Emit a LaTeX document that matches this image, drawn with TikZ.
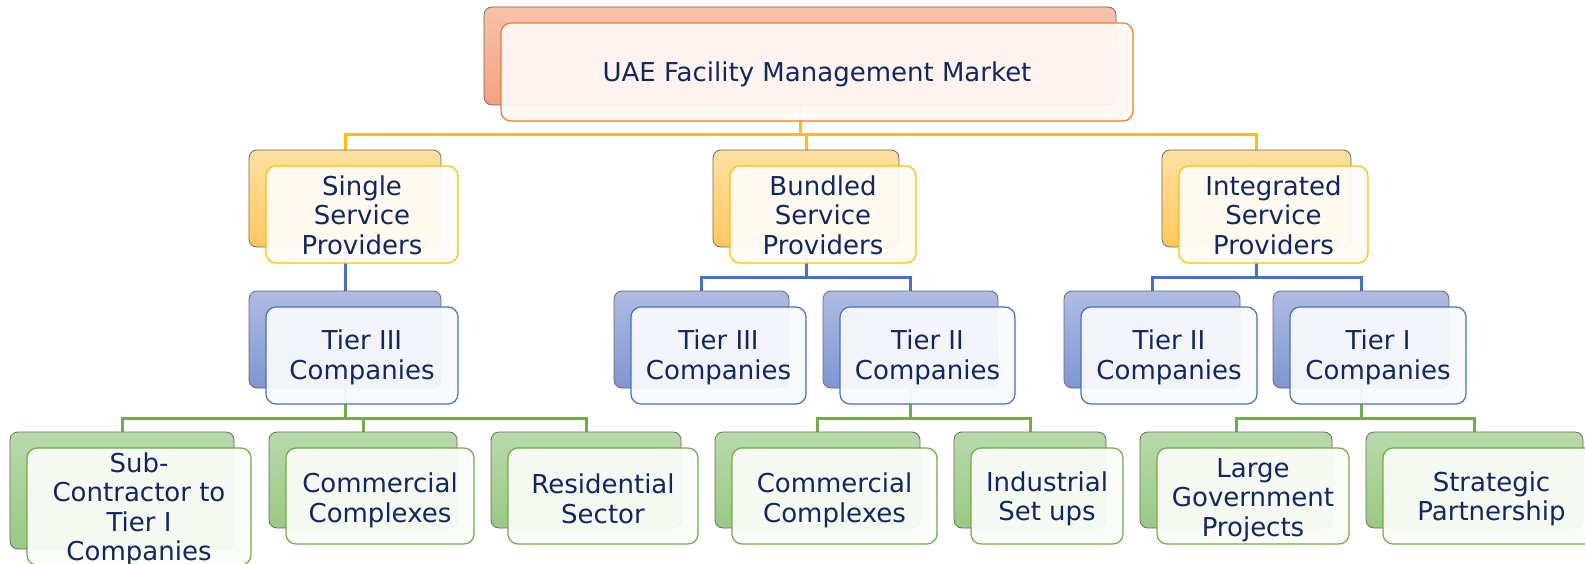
\documentclass[tikz,border=0pt]{standalone}
\usepackage{fontspec}
\setmainfont{DejaVu Sans}
\pgfdeclarelayer{bg}
\pgfsetlayers{bg,main}
\definecolor{navy}{HTML}{10275F}
\definecolor{edgegray}{HTML}{6A6A6A}
\definecolor{salTop}{HTML}{F8C2AA}
\definecolor{salBot}{HTML}{F3A17F}
\definecolor{orgLine}{HTML}{ED7D31}
\definecolor{orgFill}{HTML}{FFF8F5}
\definecolor{golTop}{HTML}{FFE0A3}
\definecolor{golBot}{HTML}{FFC75C}
\definecolor{golLine}{HTML}{FFC000}
\definecolor{golFill}{HTML}{FFFCF7}
\definecolor{bluTop}{HTML}{AEBCE3}
\definecolor{bluBot}{HTML}{7F96D3}
\definecolor{bluLine}{HTML}{4472C4}
\definecolor{bluFill}{HTML}{F9FAFD}
\definecolor{grnTop}{HTML}{B9D9AB}
\definecolor{grnBot}{HTML}{98C982}
\definecolor{grnLine}{HTML}{70AD47}
\definecolor{grnFill}{HTML}{FAFCF8}
\tikzset{
  backbox/.style={draw=edgegray, line width=0.8pt, rounded corners=8pt, inner sep=0pt, outer sep=0pt},
  frontbox/.style={line width=1.2pt, rounded corners=10pt, inner sep=0pt, outer sep=0pt, fill opacity=0.94},
  txt/.style={inner sep=0pt, align=center, text=navy, font=\fontsize{26}{29.5}\selectfont},
  bA/.style={top color=salTop, bottom color=salBot},
  fA/.style={draw=orgLine, fill=orgFill},
  bB/.style={top color=golTop, bottom color=golBot},
  fB/.style={draw=golLine, fill=golFill},
  bC/.style={top color=bluTop, bottom color=bluBot},
  fC/.style={draw=bluLine, fill=bluFill},
  bD/.style={top color=grnTop, bottom color=grnBot},
  fD/.style={draw=grnLine, fill=grnFill},
  conn/.style={line width=3pt},
  ycon/.style={conn, draw=golLine},
  bcon/.style={conn, draw=bluLine},
  gcon/.style={conn, draw=grnLine}
}
% #1 name, #2 x0, #3 y0, #4 x1, #5 y1, #6 back style, #7 front style, #8 text, #9 text shift down
\newcommand\orgbox[9]{%
  \node[backbox,#6,minimum width={(#4-#2)*1pt},minimum height={(#5-#3)*1pt}] (#1b) at ({(#2+#4)/2},{(#3+#5)/2}) {};
  \node[frontbox,#7,minimum width={(#4-#2)*1pt},minimum height={(#5-#3)*1pt}] (#1) at ({(#2+#4)/2+17},{(#3+#5)/2+16}) {};
  \node[txt] (#1t) at ({(#2+#4)/2+17},{(#3+#5)/2+16+#9}) {#8};
}
\begin{document}
\begin{tikzpicture}[x=1pt,y=-1pt]
\clip (0,0) rectangle (1585,564);
% level 0
\orgbox{top}{484}{7}{1116}{105}{bA}{fA}{UAE Facility Management Market}{2}
% level 1
\orgbox{ssp}{249}{150}{441}{247}{bB}{fB}{Single\\Service\\Providers}{0.5}
\orgbox{bsp}{713}{150}{899}{247}{bB}{fB}{Bundled\\Service\\Providers}{0.5}
\orgbox{isp}{1162}{150}{1351}{247}{bB}{fB}{Integrated\\Service\\Providers}{0.5}
% level 2
\orgbox{st3}{249}{291}{441}{388}{bC}{fC}{Tier III\\Companies}{2}
\orgbox{bt3}{614}{291}{789}{388}{bC}{fC}{Tier III\\Companies}{2}
\orgbox{bt2}{823}{291}{998}{388}{bC}{fC}{Tier II\\Companies}{2}
\orgbox{it2}{1064}{291}{1240}{388}{bC}{fC}{Tier II\\Companies}{2}
\orgbox{it1}{1273}{291}{1449}{388}{bC}{fC}{Tier I\\Companies}{2}
% level 3
\orgbox{sub}{10}{432}{234}{549}{bD}{fD}{Sub-\\Contractor to\\Tier I\\Companies}{3}
\orgbox{comA}{269}{432}{457}{528}{bD}{fD}{Commercial\\Complexes}{4.5}
\orgbox{res}{491}{432}{681}{528}{bD}{fD}{Residential\\Sector}{3}
\orgbox{comB}{715}{432}{920}{528}{bD}{fD}{Commercial\\Complexes}{4.5}
\orgbox{ind}{954}{432}{1106}{528}{bD}{fD}{Industrial\\Set ups}{3}
\orgbox{lgp}{1140}{432}{1332}{528}{bD}{fD}{Large\\Government\\Projects}{4}
\orgbox{sp}{1366}{432}{1583}{528}{bD}{fD}{Strategic\\Partnership}{3}
% connectors
\coordinate (ybus) at (0,135);
\coordinate (bbus) at (0,277);
\coordinate (gbus) at (0,418);
\begin{pgfonlayer}{bg}
\fill[white] (0,0) rectangle (1585,564);
\draw[ycon] (topb.south) -- (topb.south |- ybus) -| (sspb.north);
\draw[ycon] (topb.south) -- (topb.south |- ybus) -| (bspb.north);
\draw[ycon] (topb.south) -- (topb.south |- ybus) -| (ispb.north);
\draw[bcon] (sspb.south) -- (sspb.south |- bbus) -| (st3b.north);
\draw[bcon] (bspb.south) -- (bspb.south |- bbus) -| (bt3b.north);
\draw[bcon] (bspb.south) -- (bspb.south |- bbus) -| (bt2b.north);
\draw[bcon] (ispb.south) -- (ispb.south |- bbus) -| (it2b.north);
\draw[bcon] (ispb.south) -- (ispb.south |- bbus) -| (it1b.north);
\draw[gcon] (st3b.south) -- (st3b.south |- gbus) -| (subb.north);
\draw[gcon] (st3b.south) -- (st3b.south |- gbus) -| (comAb.north);
\draw[gcon] (st3b.south) -- (st3b.south |- gbus) -| (resb.north);
\draw[gcon] (bt2b.south) -- (bt2b.south |- gbus) -| (comBb.north);
\draw[gcon] (bt2b.south) -- (bt2b.south |- gbus) -| (indb.north);
\draw[gcon] (it1b.south) -- (it1b.south |- gbus) -| (lgpb.north);
\draw[gcon] (it1b.south) -- (it1b.south |- gbus) -| (spb.north);
\end{pgfonlayer}
\end{tikzpicture}
\end{document}
